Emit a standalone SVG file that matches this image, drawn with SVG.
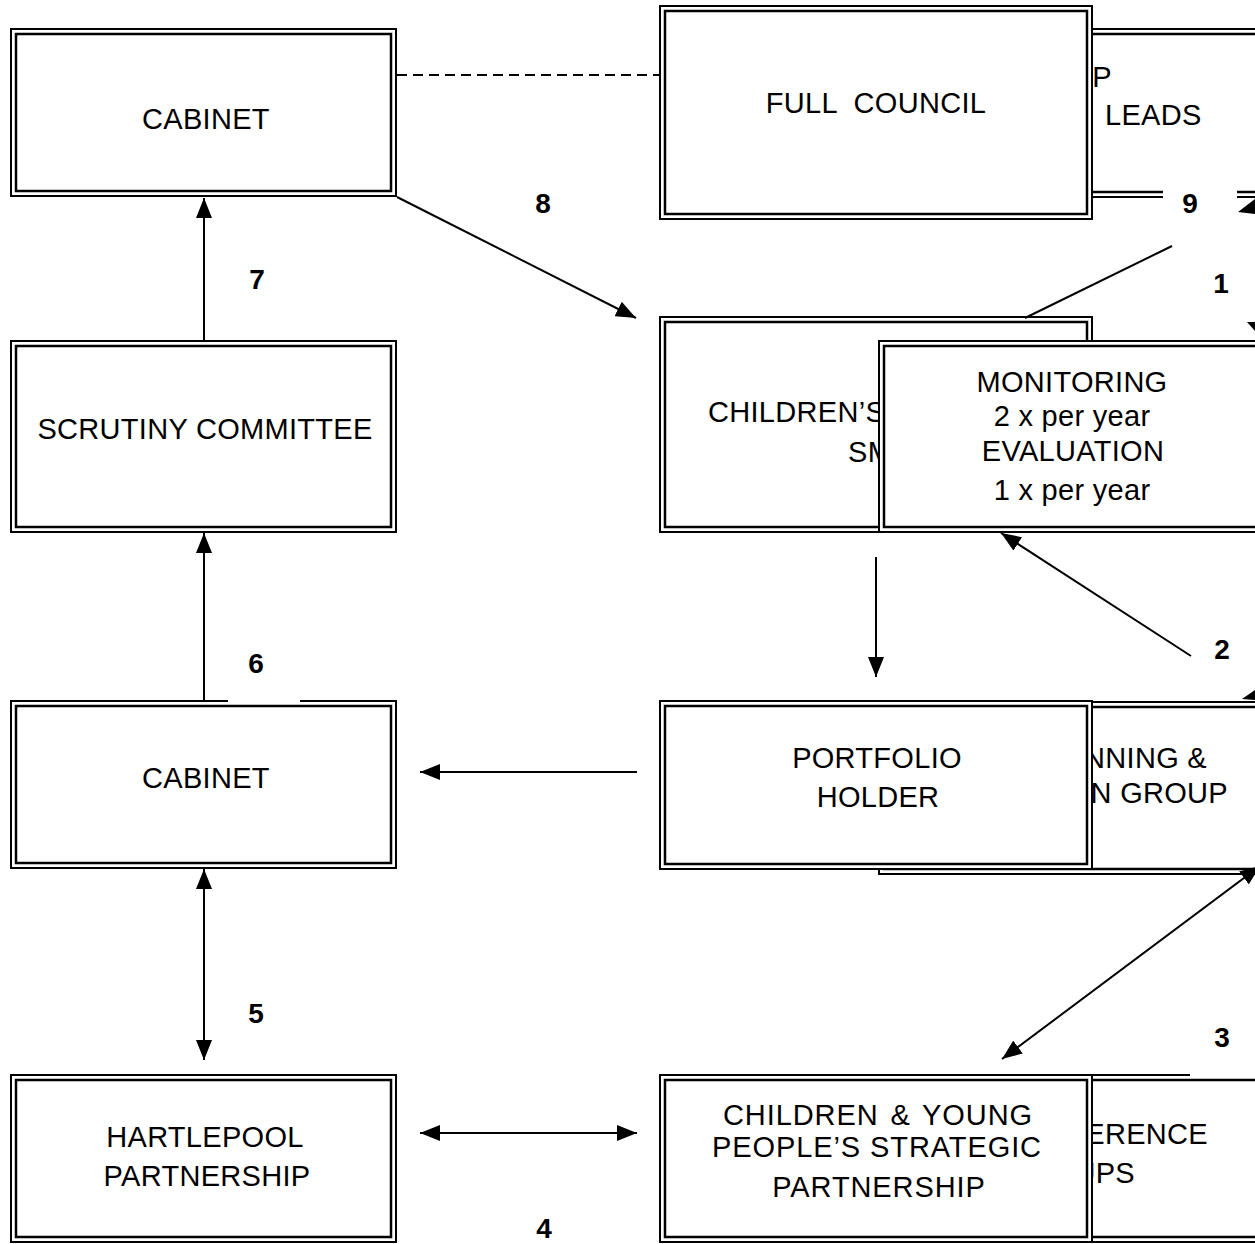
<svg xmlns="http://www.w3.org/2000/svg" width="1255" height="1244" viewBox="0 0 1255 1244">
<style>
.o{fill:#fff;stroke:#000;stroke-width:2}
.i{fill:none;stroke:#000;stroke-width:2.5}
.t{font-family:"Liberation Sans",Arial,sans-serif;font-size:29px;letter-spacing:0.3px;fill:#000}
.c{text-anchor:middle}
.w{letter-spacing:0.9px}
.n{font-family:"Liberation Sans",Arial,sans-serif;font-size:28px;font-weight:bold;fill:#000;text-anchor:middle}
.l{stroke:#000;stroke-width:2;fill:none}
</style>
<defs>
<marker id="ah" viewBox="0 0 20 16" refX="20" refY="8" markerWidth="20" markerHeight="16" orient="auto-start-reverse" markerUnits="userSpaceOnUse"><path d="M0,0 L20,8 L0,16 z" fill="#000"/></marker>
</defs>
<rect width="1255" height="1244" fill="#fff"/>
<g id="cabinet-top"><rect class="o" x="11" y="29" width="385" height="167"/><rect class="i" x="16" y="34" width="375" height="157"/><text class="t c" x="206" y="129">CABINET</text></g>
<g id="scrutiny"><rect class="o" x="11" y="341" width="385" height="191"/><rect class="i" x="16" y="346" width="375" height="181"/><text class="t c" x="205" y="439">SCRUTINY COMMITTEE</text></g>
<g id="cabinet-mid"><rect class="o" x="11" y="701" width="385" height="167"/><rect class="i" x="16" y="706" width="375" height="157"/><text class="t c" x="206" y="788">CABINET</text></g>
<g id="hartlepool"><rect class="o" x="11" y="1075" width="385" height="167"/><rect class="i" x="16" y="1080" width="375" height="157"/><text class="t c" x="205" y="1147">HARTLEPOOL</text><text class="t c" x="207" y="1186">PARTNERSHIP</text></g>
<g id="leads"><rect class="o" x="879" y="29" width="400" height="168"/><rect class="i" x="884" y="34" width="390" height="158"/><text class="t" x="1112" y="87" text-anchor="end">P</text><text class="t" x="1105" y="125" letter-spacing="0">LEADS</text></g>
<g id="full-council"><rect class="o" x="660" y="6" width="432" height="213"/><rect class="i" x="665" y="11" width="422" height="203"/><text class="t c" x="876" y="113" xml:space="preserve">FULL  COUNCIL</text></g>
<g id="childrens-smt"><rect class="o" x="660" y="317" width="432" height="215"/><rect class="i" x="665" y="322" width="422" height="205"/><text class="t" x="708" y="422">CHILDREN’S</text><text class="t" x="848" y="462">SM</text></g>
<g id="monitoring"><rect class="o" x="879" y="341" width="400" height="191"/><rect class="i" x="884" y="346" width="390" height="181"/><text class="t c" x="1072" y="392">MONITORING</text><text class="t c" x="1072" y="426">2 x per year</text><text class="t c" x="1073" y="461">EVALUATION</text><text class="t c" x="1072" y="500">1 x per year</text></g>
<g id="planning"><rect class="o" x="879" y="702" width="400" height="172"/><rect class="i" x="884" y="707" width="390" height="162"/><text class="t" x="1207" y="768" text-anchor="end">NNING &amp;</text><text class="t" x="1228" y="803" text-anchor="end">N GROUP</text></g>
<g id="portfolio"><rect class="o" x="660" y="701" width="432" height="168"/><rect class="i" x="665" y="706" width="422" height="158"/><text class="t c" x="877" y="768">PORTFOLIO</text><text class="t c" x="878" y="807">HOLDER</text></g>
<g id="reference"><rect class="o" x="879" y="1075" width="400" height="167"/><rect class="i" x="884" y="1080" width="390" height="157"/><text class="t" x="1208" y="1144" text-anchor="end">ERENCE</text><text class="t" x="1135" y="1183" text-anchor="end">UPS</text></g>
<g id="cypsp"><rect class="o" x="660" y="1075" width="432" height="167"/><rect class="i" x="665" y="1080" width="422" height="157"/><text class="t c w" x="878" y="1125" word-spacing="3">CHILDREN &amp; YOUNG</text><text class="t c w" x="877" y="1157">PEOPLE’S STRATEGIC</text><text class="t c w" x="879" y="1197">PARTNERSHIP</text></g>
<g id="connectors">
<line class="l" x1="397" y1="75" x2="659" y2="75" stroke-dasharray="10,6"/>
<line class="l" x1="204" y1="340" x2="204" y2="198" marker-end="url(#ah)"/>
<line class="l" x1="204" y1="700" x2="204" y2="533" marker-end="url(#ah)"/>
<line class="l" x1="204" y1="869" x2="204" y2="1060" marker-start="url(#ah)" marker-end="url(#ah)"/>
<line class="l" x1="420" y1="1133" x2="637" y2="1133" marker-start="url(#ah)" marker-end="url(#ah)"/>
<line class="l" x1="637" y1="772" x2="420" y2="772" marker-end="url(#ah)"/>
<line class="l" x1="876" y1="557" x2="876" y2="677" marker-end="url(#ah)"/>
<line class="l" x1="397" y1="197" x2="636" y2="318" marker-end="url(#ah)"/>
<line class="l" x1="1191" y1="656" x2="1001" y2="533" marker-end="url(#ah)"/>
<line class="l" x1="1002" y1="1059" x2="1260" y2="866" marker-start="url(#ah)" marker-end="url(#ah)"/>
<line class="l" x1="1025" y1="318" x2="1172" y2="246"/>
<polygon points="1238,212 1255,199 1255,214" fill="#000"/>
<polygon points="1247,322 1255,322 1255,331" fill="#000"/>
<polygon points="1242,699 1255,690 1255,700" fill="#000"/>
</g>
<g id="labels">
<rect x="228" y="645" width="72" height="57" fill="#fff"/>
<rect x="1163" y="185" width="74" height="15" fill="#fff"/>
<rect x="1190" y="1020" width="65" height="56" fill="#fff"/>
<text class="n" x="543" y="213">8</text>
<text class="n" x="257" y="289">7</text>
<text class="n" x="256" y="673">6</text>
<text class="n" x="256" y="1023">5</text>
<text class="n" x="544" y="1238">4</text>
<text class="n" x="1190" y="213">9</text>
<text class="n" x="1221" y="293">1</text>
<text class="n" x="1222" y="659">2</text>
<text class="n" x="1222" y="1047">3</text>
</g>
</svg>
